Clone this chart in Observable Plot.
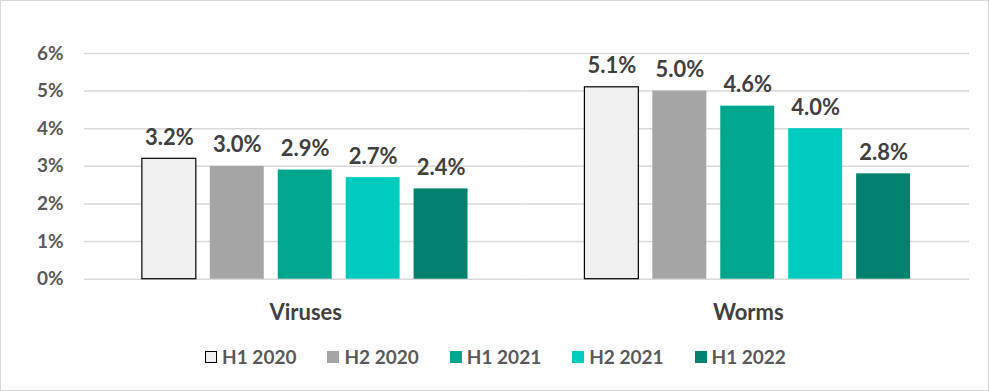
<!DOCTYPE html>
<html>
<head>
<meta charset="utf-8">
<script src="https://cdn.jsdelivr.net/npm/d3@7"></script>
<script src="https://cdn.jsdelivr.net/npm/@observablehq/plot@0.6"></script>
<style>
  html, body { margin: 0; padding: 0; background: #fff; }
  #wrap { width: 989px; height: 391px; box-sizing: border-box; border: 1px solid #d9d9d9; position: relative; overflow: hidden; font-family: Lato, "Open Sans", sans-serif; }
  #chart { position: absolute; left: -1px; top: -1px; }
  #legend { position: absolute; left: 0; top: 344px; width: 989px; display: flex; justify-content: center; gap: 31px; font-weight: bold; font-size: 19px; color: #595959; }
  .item { display: flex; align-items: center; gap: 5px; }
  .sw { width: 12px; height: 12px; box-sizing: border-box; }
</style>
</head>
<body>
<div id="wrap">
  <div id="chart"></div>
  <div id="legend"></div>
</div>
<script>
const categories = ["Viruses", "Worms"];
const periods = ["H1 2020", "H2 2020", "H1 2021", "H2 2021", "H1 2022"];
const viruses = [3.2, 3.0, 2.9, 2.7, 2.4];
const worms = [5.1, 5.0, 4.6, 4.0, 2.8];
const yTicks = [0, 1, 2, 3, 4, 5, 6];
const colors = ["#f0f0f0", "#a5a5a5", "#00a78e", "#00cbbf", "#00826e"];
const strokes = ["#000000", "none", "none", "none", "none"];

const series = {Viruses: viruses, Worms: worms};
const data = [];
categories.forEach(c => periods.forEach((p, i) => data.push({category: c, period: p, value: series[c][i]})));

const chart = Plot.plot({
  width: 989,
  height: 330,
  marginTop: 53,
  marginBottom: 51,
  marginLeft: 83,
  marginRight: 19,
  style: {fontFamily: "Lato, 'Open Sans', sans-serif", background: "transparent"},
  fx: {domain: categories, padding: 0, label: null},
  x: {domain: periods, paddingInner: 0.2, paddingOuter: 0.82, axis: null},
  y: {domain: [0, 6], label: null},
  color: {domain: periods, range: colors},
  marks: [
    Plot.gridY(yTicks, {stroke: "#d9d9d9", strokeOpacity: 1, strokeWidth: 1.5}),
    Plot.axisY(yTicks, {tickSize: 0, tickPadding: 21, tickFormat: d => d + "%", fontSize: 19, fontWeight: "bold", fill: "#595959", label: null}),
    Plot.axisFx({anchor: "bottom", tickSize: 0, tickPadding: 25, fontSize: 22, fontWeight: "bold", fill: "#404040", label: null}),
    Plot.barY(data, {fx: "category", x: "period", y: "value", fill: "period", stroke: d => strokes[periods.indexOf(d.period)], strokeWidth: 1.2}),
    Plot.text(data, {fx: "category", x: "period", y: "value", text: d => d.value.toFixed(1) + "%", lineAnchor: "bottom", dy: -14, fontSize: 22, fontWeight: "bold", fill: "#404040"})
  ]
});
document.getElementById("chart").appendChild(chart);

const legend = document.getElementById("legend");
periods.forEach((p, i) => {
  const it = document.createElement("div");
  it.className = "item";
  const sw = document.createElement("div");
  sw.className = "sw";
  sw.style.background = colors[i];
  if (strokes[i] !== "none") sw.style.border = "1px solid " + strokes[i];
  const t = document.createElement("span");
  t.textContent = p;
  it.appendChild(sw); it.appendChild(t);
  legend.appendChild(it);
});
</script>
</body>
</html>
